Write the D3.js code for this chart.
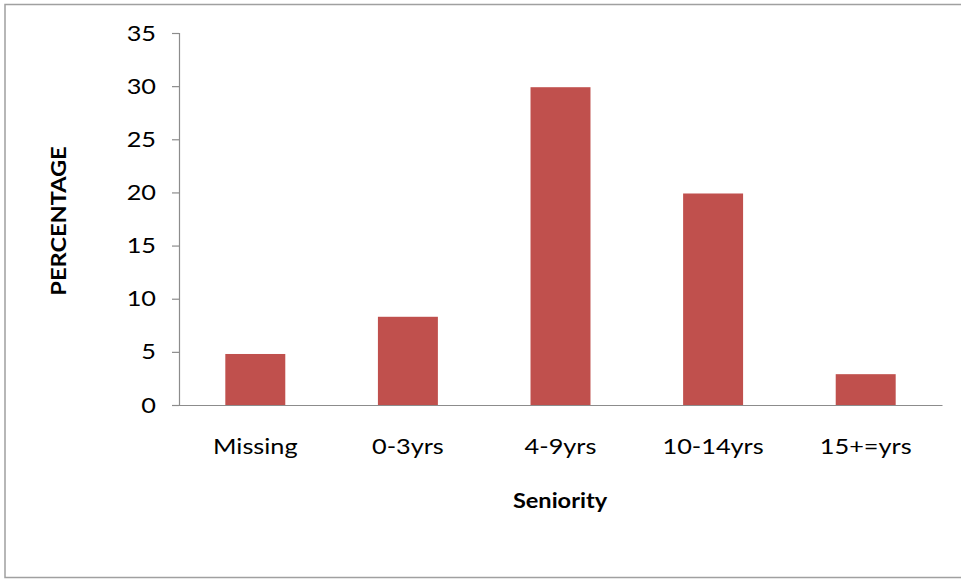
<!DOCTYPE html>
<html>
<head>
<meta charset="utf-8">
<script src="https://cdn.jsdelivr.net/npm/d3@7"></script>
<style>
  html, body { margin: 0; padding: 0; background: #fff; }
  svg { display: block; }
</style>
</head>
<body>
<svg id="chart" width="961" height="579"></svg>
<script>
// Share of respondents by seniority band
const categories = ["Missing", "0-3yrs", "4-9yrs", "10-14yrs", "15+=yrs"];
const percentages = [4.8, 8.3, 29.9, 19.9, 2.9];
const yTicks = [0, 5, 10, 15, 20, 25, 30, 35];
const xTitle = "Seniority";
const yTitle = "PERCENTAGE";

const W = 961, H = 579;
const margin = { left: 179, right: 19, top: 33, bottom: 174 };
const font = "Lato, 'Open Sans', sans-serif";
const fontSize = 22;
const titleSize = 20.5;
const stretch = 1.15; // horizontal widening of the label type

const svg = d3.select("#chart");

// chart area frame
svg.append("rect")
  .attr("x", 5).attr("y", 4.5)
  .attr("width", W + 10).attr("height", 573)
  .attr("fill", "#fff")
  .attr("stroke", "#a0a0a0")
  .attr("stroke-width", 1.5);

const x = d3.scaleBand()
  .domain(categories)
  .range([margin.left, W - margin.right])
  .paddingInner(0.607)
  .paddingOuter(0.3035);

const y = d3.scaleLinear()
  .domain([0, 35])
  .range([H - margin.bottom, margin.top]);

// bars
svg.append("g")
  .selectAll("rect")
  .data(categories)
  .join("rect")
  .attr("x", d => x(d))
  .attr("width", x.bandwidth())
  .attr("y", (d, i) => y(percentages[i]))
  .attr("height", (d, i) => y(0) - y(percentages[i]))
  .attr("fill", "#c0504d");

// y axis
const yAxis = svg.append("g")
  .attr("transform", `translate(${margin.left},0)`)
  .call(d3.axisLeft(y).tickValues(yTicks).tickSize(7).tickPadding(13));
yAxis.select(".domain").attr("stroke", "#8c8c8c").attr("stroke-width", 1.2);
yAxis.selectAll(".tick line").attr("stroke", "#8c8c8c").attr("stroke-width", 1.2);
yAxis.selectAll(".tick text")
  .attr("font-family", font).attr("font-size", fontSize).attr("fill", "#000")
  .attr("transform", `scale(${stretch},1)`);

// x axis
const xAxis = svg.append("g")
  .attr("transform", `translate(0,${y(0)})`)
  .call(d3.axisBottom(x).tickSize(0).tickPadding(33));
xAxis.select(".domain").attr("stroke", "#8c8c8c").attr("stroke-width", 1.2);
xAxis.selectAll(".tick text")
  .attr("font-family", font).attr("font-size", fontSize).attr("fill", "#000")
  .attr("transform", `scale(${stretch},1)`);

// axis titles
const xMid = x.range()[0] + (x.range()[1] - x.range()[0]) / 2 - 0.5;
svg.append("text")
  .attr("transform", `translate(${xMid},508) scale(${stretch},1)`)
  .attr("text-anchor", "middle")
  .attr("font-family", font).attr("font-size", titleSize).attr("font-weight", "bold")
  .attr("fill", "#000")
  .text(xTitle);

svg.append("text")
  .attr("transform", `translate(66,${(y(0) + y(35)) / 2 + 2}) rotate(-90) scale(${stretch},1)`)
  .attr("text-anchor", "middle")
  .attr("font-family", font).attr("font-size", titleSize).attr("font-weight", "bold")
  .attr("fill", "#000")
  .text(yTitle);
</script>
</body>
</html>
